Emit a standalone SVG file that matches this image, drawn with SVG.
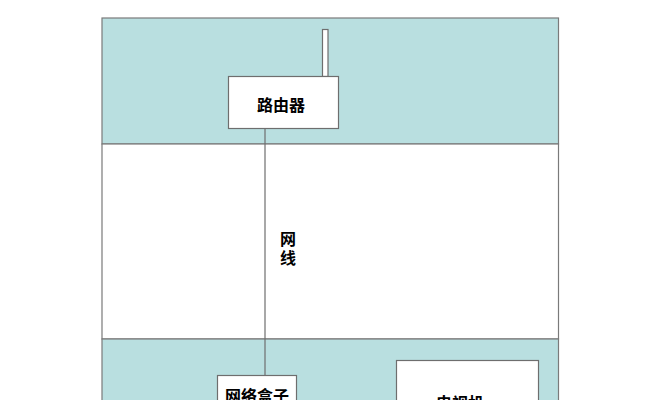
<svg xmlns="http://www.w3.org/2000/svg" width="667" height="400" viewBox="0 0 667 400">
<style>
.band{fill:#b9dfe0;stroke:#7a7a7a;stroke-width:1.2}
.mid{fill:#ffffff;stroke:#7a7a7a;stroke-width:1.2}
.box{fill:#ffffff;stroke:#6e6e6e;stroke-width:1.2}
.lbl{font-family:"Noto Sans CJK SC","Noto Sans CJK TC",sans-serif;font-size:16px;font-weight:bold;fill:#000;text-anchor:middle}
.wire{stroke:#6e6e6e;stroke-width:1.2;fill:none}
</style>
<rect width="667" height="400" fill="#ffffff"/>
<g id="zones">
<rect class="band" x="102" y="18" width="456.5" height="126"/>
<rect class="mid" x="102" y="144" width="456.5" height="195"/>
<rect class="band" x="102" y="339" width="456.5" height="70"/>
</g>
<g id="connectors">
<line class="wire" x1="265" y1="128" x2="265" y2="375"/>
</g>
<g id="router">
<rect class="box" x="322.5" y="29.5" width="5.5" height="47"/>
<rect class="box" x="228.5" y="76.5" width="110" height="52"/>
<text class="lbl" x="281" y="111">路由器</text>
</g>
<g id="cable-label">
<text class="lbl" x="288" y="245">网</text>
<text class="lbl" x="288" y="264">线</text>
</g>
<g id="netbox">
<rect class="box" x="217.5" y="375.5" width="79" height="40"/>
<text class="lbl" x="257" y="402">网络盒子</text>
</g>
<g id="tv">
<rect class="box" x="396.5" y="360.5" width="142" height="60"/>
<text class="lbl" x="460" y="409">电视机</text>
</g>
</svg>
